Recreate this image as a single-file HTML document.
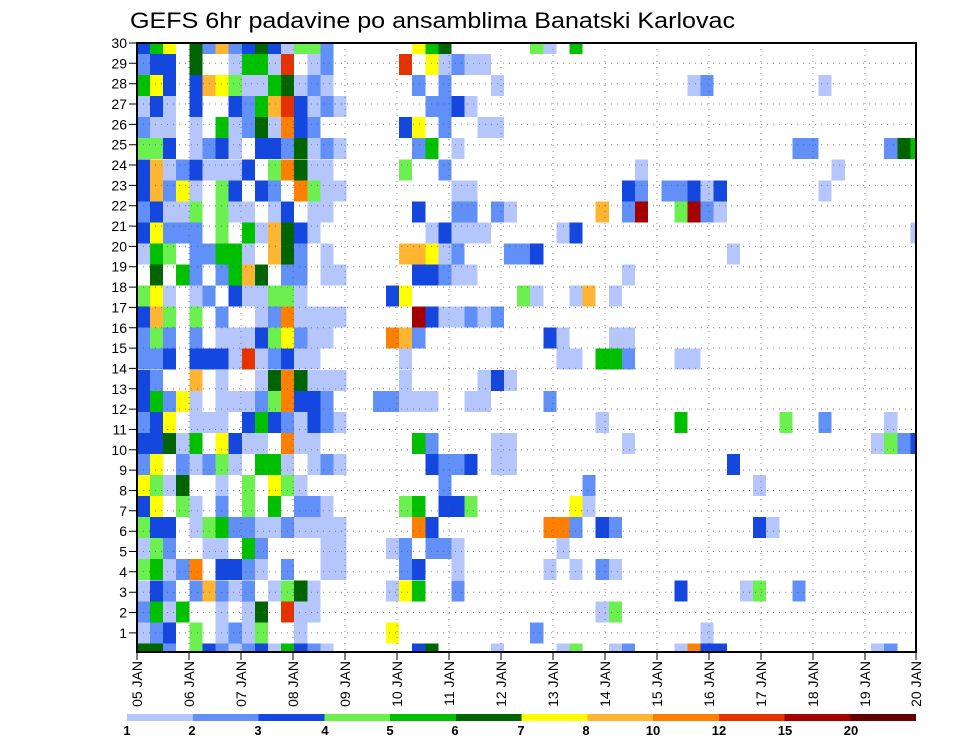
<!DOCTYPE html>
<html><head><meta charset="utf-8"><style>
html,body{margin:0;padding:0;background:#fff}
svg{display:block}
.a{fill:#b4c6fb}.b{fill:#6090f8}.c{fill:#1446e0}.d{fill:#6cf050}.e{fill:#00c000}.f{fill:#006400}
.g{fill:#ffff00}.h{fill:#ffb432}.i{fill:#ff8000}.j{fill:#e63200}.k{fill:#a50000}.l{fill:#640000}
text{font-family:"Liberation Sans",sans-serif;fill:#000}
</style></head><body>
<svg width="960" height="742" viewBox="0 0 960 742" xmlns="http://www.w3.org/2000/svg">
<defs><clipPath id="pc"><rect x="137" y="43" width="779" height="609"/></clipPath></defs>
<text x="130" y="28" font-size="22" textLength="605" lengthAdjust="spacingAndGlyphs">GEFS 6hr padavine po ansamblima Banatski Karlovac</text>
<g clip-path="url(#pc)"><g transform="translate(136.89,32.95) scale(13.11,21.05)" shape-rendering="crispEdges">
<g transform="translate(0,0)"><rect x="0" width="1" height="1" class="c"/><rect x="1" width="1" height="1" class="e"/><rect x="2" width="1" height="1" class="g"/><rect x="4" width="1" height="1" class="f"/><rect x="5" width="1" height="1" class="b"/><rect x="6" width="1" height="1" class="h"/><rect x="7" width="1" height="1" class="b"/><rect x="8" width="1" height="1" class="c"/><rect x="9" width="1" height="1" class="f"/><rect x="10" width="1" height="1" class="c"/><rect x="11" width="1" height="1" class="a"/><rect x="12" width="2" height="1" class="d"/><rect x="14" width="1" height="1" class="b"/><rect x="21" width="1" height="1" class="g"/><rect x="22" width="1" height="1" class="e"/><rect x="23" width="1" height="1" class="f"/><rect x="30" width="1" height="1" class="d"/><rect x="31" width="1" height="1" class="a"/><rect x="33" width="1" height="1" class="e"/></g>
<g transform="translate(0,1)"><rect x="0" width="1" height="1" class="b"/><rect x="1" width="2" height="1" class="c"/><rect x="4" width="1" height="1" class="f"/><rect x="7" width="1" height="1" class="a"/><rect x="8" width="2" height="1" class="e"/><rect x="10" width="1" height="1" class="a"/><rect x="11" width="1" height="1" class="j"/><rect x="13" width="1" height="1" class="a"/><rect x="14" width="1" height="1" class="b"/><rect x="20" width="1" height="1" class="j"/><rect x="22" width="1" height="1" class="g"/><rect x="23" width="1" height="1" class="a"/><rect x="24" width="1" height="1" class="b"/><rect x="25" width="2" height="1" class="a"/></g>
<g transform="translate(0,2)"><rect x="0" width="1" height="1" class="e"/><rect x="1" width="1" height="1" class="g"/><rect x="2" width="1" height="1" class="c"/><rect x="4" width="1" height="1" class="c"/><rect x="5" width="1" height="1" class="h"/><rect x="6" width="1" height="1" class="g"/><rect x="7" width="1" height="1" class="d"/><rect x="8" width="2" height="1" class="a"/><rect x="10" width="1" height="1" class="e"/><rect x="11" width="1" height="1" class="f"/><rect x="12" width="1" height="1" class="a"/><rect x="13" width="1" height="1" class="b"/><rect x="14" width="1" height="1" class="a"/><rect x="21" width="1" height="1" class="b"/><rect x="23" width="1" height="1" class="b"/><rect x="27" width="1" height="1" class="a"/><rect x="42" width="1" height="1" class="a"/><rect x="43" width="1" height="1" class="b"/><rect x="52" width="1" height="1" class="a"/></g>
<g transform="translate(0,3)"><rect x="0" width="1" height="1" class="a"/><rect x="1" width="1" height="1" class="c"/><rect x="2" width="1" height="1" class="a"/><rect x="4" width="1" height="1" class="c"/><rect x="7" width="1" height="1" class="c"/><rect x="8" width="1" height="1" class="b"/><rect x="9" width="1" height="1" class="e"/><rect x="10" width="1" height="1" class="h"/><rect x="11" width="1" height="1" class="j"/><rect x="12" width="1" height="1" class="c"/><rect x="13" width="1" height="1" class="a"/><rect x="14" width="1" height="1" class="b"/><rect x="15" width="1" height="1" class="a"/><rect x="22" width="2" height="1" class="b"/><rect x="24" width="1" height="1" class="c"/><rect x="25" width="1" height="1" class="a"/></g>
<g transform="translate(0,4)"><rect x="0" width="1" height="1" class="b"/><rect x="1" width="2" height="1" class="a"/><rect x="4" width="1" height="1" class="a"/><rect x="6" width="1" height="1" class="e"/><rect x="7" width="1" height="1" class="a"/><rect x="8" width="1" height="1" class="b"/><rect x="9" width="1" height="1" class="f"/><rect x="10" width="1" height="1" class="a"/><rect x="11" width="1" height="1" class="i"/><rect x="12" width="1" height="1" class="c"/><rect x="13" width="1" height="1" class="b"/><rect x="20" width="1" height="1" class="c"/><rect x="21" width="1" height="1" class="g"/><rect x="23" width="1" height="1" class="b"/><rect x="26" width="2" height="1" class="a"/></g>
<g transform="translate(0,5)"><rect x="0" width="2" height="1" class="d"/><rect x="2" width="1" height="1" class="c"/><rect x="4" width="1" height="1" class="a"/><rect x="5" width="1" height="1" class="b"/><rect x="6" width="1" height="1" class="c"/><rect x="7" width="1" height="1" class="a"/><rect x="9" width="2" height="1" class="c"/><rect x="11" width="1" height="1" class="b"/><rect x="12" width="1" height="1" class="f"/><rect x="13" width="1" height="1" class="a"/><rect x="14" width="1" height="1" class="b"/><rect x="15" width="1" height="1" class="a"/><rect x="21" width="1" height="1" class="b"/><rect x="22" width="1" height="1" class="e"/><rect x="24" width="1" height="1" class="a"/><rect x="50" width="2" height="1" class="b"/><rect x="57" width="1" height="1" class="b"/><rect x="58" width="1" height="1" class="f"/><rect x="59" width="1" height="1" class="e"/></g>
<g transform="translate(0,6)"><rect x="0" width="1" height="1" class="c"/><rect x="1" width="1" height="1" class="h"/><rect x="2" width="1" height="1" class="a"/><rect x="3" width="1" height="1" class="b"/><rect x="4" width="1" height="1" class="c"/><rect x="5" width="3" height="1" class="a"/><rect x="8" width="1" height="1" class="c"/><rect x="10" width="1" height="1" class="d"/><rect x="11" width="1" height="1" class="i"/><rect x="12" width="1" height="1" class="f"/><rect x="13" width="2" height="1" class="a"/><rect x="20" width="1" height="1" class="d"/><rect x="23" width="1" height="1" class="b"/><rect x="38" width="1" height="1" class="a"/><rect x="53" width="1" height="1" class="a"/></g>
<g transform="translate(0,7)"><rect x="0" width="1" height="1" class="c"/><rect x="1" width="1" height="1" class="h"/><rect x="2" width="1" height="1" class="b"/><rect x="3" width="1" height="1" class="g"/><rect x="4" width="1" height="1" class="a"/><rect x="6" width="1" height="1" class="d"/><rect x="7" width="1" height="1" class="c"/><rect x="9" width="1" height="1" class="c"/><rect x="10" width="1" height="1" class="b"/><rect x="12" width="1" height="1" class="i"/><rect x="13" width="1" height="1" class="d"/><rect x="14" width="2" height="1" class="a"/><rect x="24" width="2" height="1" class="a"/><rect x="37" width="1" height="1" class="c"/><rect x="38" width="1" height="1" class="b"/><rect x="40" width="2" height="1" class="b"/><rect x="42" width="1" height="1" class="c"/><rect x="43" width="1" height="1" class="a"/><rect x="44" width="1" height="1" class="c"/><rect x="52" width="1" height="1" class="a"/></g>
<g transform="translate(0,8)"><rect x="0" width="1" height="1" class="b"/><rect x="1" width="1" height="1" class="c"/><rect x="2" width="2" height="1" class="a"/><rect x="4" width="1" height="1" class="d"/><rect x="6" width="1" height="1" class="d"/><rect x="7" width="2" height="1" class="a"/><rect x="10" width="1" height="1" class="a"/><rect x="11" width="1" height="1" class="c"/><rect x="13" width="2" height="1" class="a"/><rect x="21" width="1" height="1" class="c"/><rect x="24" width="2" height="1" class="b"/><rect x="27" width="1" height="1" class="b"/><rect x="28" width="1" height="1" class="a"/><rect x="35" width="1" height="1" class="h"/><rect x="37" width="1" height="1" class="b"/><rect x="38" width="1" height="1" class="k"/><rect x="41" width="1" height="1" class="d"/><rect x="42" width="1" height="1" class="k"/><rect x="43" width="1" height="1" class="b"/><rect x="44" width="1" height="1" class="a"/></g>
<g transform="translate(0,9)"><rect x="0" width="1" height="1" class="c"/><rect x="1" width="1" height="1" class="g"/><rect x="2" width="3" height="1" class="b"/><rect x="6" width="1" height="1" class="d"/><rect x="8" width="1" height="1" class="e"/><rect x="9" width="1" height="1" class="a"/><rect x="10" width="1" height="1" class="h"/><rect x="11" width="1" height="1" class="f"/><rect x="12" width="1" height="1" class="c"/><rect x="13" width="1" height="1" class="a"/><rect x="22" width="1" height="1" class="a"/><rect x="23" width="1" height="1" class="c"/><rect x="24" width="3" height="1" class="a"/><rect x="32" width="1" height="1" class="a"/><rect x="33" width="1" height="1" class="c"/><rect x="59" width="1" height="1" class="a"/></g>
<g transform="translate(0,10)"><rect x="0" width="1" height="1" class="a"/><rect x="1" width="1" height="1" class="e"/><rect x="2" width="1" height="1" class="d"/><rect x="4" width="2" height="1" class="b"/><rect x="6" width="2" height="1" class="e"/><rect x="8" width="1" height="1" class="a"/><rect x="10" width="1" height="1" class="h"/><rect x="11" width="1" height="1" class="f"/><rect x="12" width="1" height="1" class="b"/><rect x="14" width="1" height="1" class="a"/><rect x="20" width="2" height="1" class="h"/><rect x="22" width="1" height="1" class="g"/><rect x="23" width="1" height="1" class="a"/><rect x="24" width="1" height="1" class="b"/><rect x="28" width="2" height="1" class="b"/><rect x="30" width="1" height="1" class="c"/><rect x="45" width="1" height="1" class="a"/></g>
<g transform="translate(0,11)"><rect x="1" width="1" height="1" class="f"/><rect x="3" width="1" height="1" class="e"/><rect x="4" width="1" height="1" class="b"/><rect x="6" width="1" height="1" class="b"/><rect x="7" width="1" height="1" class="e"/><rect x="8" width="1" height="1" class="h"/><rect x="9" width="1" height="1" class="f"/><rect x="11" width="2" height="1" class="b"/><rect x="14" width="2" height="1" class="a"/><rect x="21" width="2" height="1" class="c"/><rect x="23" width="1" height="1" class="b"/><rect x="24" width="2" height="1" class="a"/><rect x="37" width="1" height="1" class="a"/></g>
<g transform="translate(0,12)"><rect x="0" width="1" height="1" class="d"/><rect x="1" width="1" height="1" class="g"/><rect x="2" width="1" height="1" class="a"/><rect x="4" width="1" height="1" class="a"/><rect x="5" width="1" height="1" class="b"/><rect x="7" width="1" height="1" class="c"/><rect x="8" width="2" height="1" class="a"/><rect x="10" width="2" height="1" class="d"/><rect x="12" width="1" height="1" class="a"/><rect x="19" width="1" height="1" class="c"/><rect x="20" width="1" height="1" class="g"/><rect x="29" width="1" height="1" class="d"/><rect x="30" width="1" height="1" class="a"/><rect x="33" width="1" height="1" class="a"/><rect x="34" width="1" height="1" class="h"/><rect x="36" width="1" height="1" class="a"/></g>
<g transform="translate(0,13)"><rect x="0" width="1" height="1" class="c"/><rect x="1" width="1" height="1" class="h"/><rect x="2" width="1" height="1" class="d"/><rect x="4" width="1" height="1" class="d"/><rect x="6" width="1" height="1" class="b"/><rect x="9" width="1" height="1" class="a"/><rect x="10" width="1" height="1" class="b"/><rect x="11" width="1" height="1" class="i"/><rect x="12" width="4" height="1" class="a"/><rect x="21" width="1" height="1" class="k"/><rect x="22" width="1" height="1" class="c"/><rect x="23" width="2" height="1" class="a"/><rect x="25" width="1" height="1" class="b"/><rect x="26" width="1" height="1" class="a"/><rect x="27" width="1" height="1" class="b"/></g>
<g transform="translate(0,14)"><rect x="0" width="1" height="1" class="b"/><rect x="1" width="1" height="1" class="d"/><rect x="2" width="1" height="1" class="b"/><rect x="4" width="1" height="1" class="b"/><rect x="6" width="3" height="1" class="a"/><rect x="9" width="1" height="1" class="c"/><rect x="10" width="1" height="1" class="d"/><rect x="11" width="1" height="1" class="g"/><rect x="12" width="1" height="1" class="b"/><rect x="13" width="2" height="1" class="a"/><rect x="19" width="1" height="1" class="i"/><rect x="20" width="1" height="1" class="h"/><rect x="21" width="1" height="1" class="b"/><rect x="31" width="1" height="1" class="c"/><rect x="32" width="1" height="1" class="a"/><rect x="36" width="2" height="1" class="a"/></g>
<g transform="translate(0,15)"><rect x="0" width="2" height="1" class="b"/><rect x="2" width="1" height="1" class="c"/><rect x="4" width="3" height="1" class="c"/><rect x="7" width="1" height="1" class="a"/><rect x="8" width="1" height="1" class="j"/><rect x="9" width="1" height="1" class="a"/><rect x="10" width="1" height="1" class="b"/><rect x="11" width="1" height="1" class="c"/><rect x="12" width="2" height="1" class="a"/><rect x="20" width="1" height="1" class="a"/><rect x="32" width="2" height="1" class="a"/><rect x="35" width="2" height="1" class="e"/><rect x="37" width="1" height="1" class="b"/><rect x="41" width="2" height="1" class="a"/></g>
<g transform="translate(0,16)"><rect x="0" width="1" height="1" class="c"/><rect x="1" width="1" height="1" class="b"/><rect x="4" width="1" height="1" class="h"/><rect x="6" width="1" height="1" class="a"/><rect x="9" width="1" height="1" class="a"/><rect x="10" width="1" height="1" class="f"/><rect x="11" width="1" height="1" class="i"/><rect x="12" width="1" height="1" class="f"/><rect x="13" width="3" height="1" class="a"/><rect x="20" width="1" height="1" class="a"/><rect x="26" width="1" height="1" class="a"/><rect x="27" width="1" height="1" class="c"/><rect x="28" width="1" height="1" class="a"/></g>
<g transform="translate(0,17)"><rect x="0" width="1" height="1" class="c"/><rect x="1" width="1" height="1" class="e"/><rect x="2" width="1" height="1" class="b"/><rect x="3" width="1" height="1" class="g"/><rect x="4" width="1" height="1" class="a"/><rect x="6" width="3" height="1" class="a"/><rect x="9" width="1" height="1" class="b"/><rect x="10" width="1" height="1" class="d"/><rect x="11" width="1" height="1" class="i"/><rect x="12" width="2" height="1" class="c"/><rect x="14" width="1" height="1" class="b"/><rect x="18" width="2" height="1" class="b"/><rect x="20" width="3" height="1" class="a"/><rect x="25" width="2" height="1" class="a"/><rect x="31" width="1" height="1" class="b"/></g>
<g transform="translate(0,18)"><rect x="0" width="1" height="1" class="b"/><rect x="1" width="1" height="1" class="c"/><rect x="2" width="1" height="1" class="g"/><rect x="4" width="3" height="1" class="a"/><rect x="8" width="1" height="1" class="c"/><rect x="9" width="1" height="1" class="e"/><rect x="10" width="1" height="1" class="c"/><rect x="11" width="1" height="1" class="b"/><rect x="12" width="1" height="1" class="a"/><rect x="13" width="1" height="1" class="c"/><rect x="14" width="1" height="1" class="b"/><rect x="15" width="1" height="1" class="a"/><rect x="35" width="1" height="1" class="a"/><rect x="41" width="1" height="1" class="e"/><rect x="49" width="1" height="1" class="d"/><rect x="52" width="1" height="1" class="b"/><rect x="57" width="1" height="1" class="a"/></g>
<g transform="translate(0,19)"><rect x="0" width="2" height="1" class="c"/><rect x="2" width="1" height="1" class="f"/><rect x="3" width="1" height="1" class="a"/><rect x="4" width="1" height="1" class="e"/><rect x="6" width="1" height="1" class="g"/><rect x="7" width="1" height="1" class="c"/><rect x="8" width="2" height="1" class="a"/><rect x="11" width="1" height="1" class="i"/><rect x="12" width="2" height="1" class="a"/><rect x="21" width="1" height="1" class="e"/><rect x="22" width="1" height="1" class="b"/><rect x="27" width="2" height="1" class="a"/><rect x="37" width="1" height="1" class="a"/><rect x="56" width="1" height="1" class="a"/><rect x="57" width="1" height="1" class="d"/><rect x="58" width="1" height="1" class="b"/><rect x="59" width="1" height="1" class="c"/></g>
<g transform="translate(0,20)"><rect x="0" width="1" height="1" class="b"/><rect x="1" width="1" height="1" class="g"/><rect x="3" width="1" height="1" class="b"/><rect x="4" width="1" height="1" class="a"/><rect x="5" width="1" height="1" class="b"/><rect x="6" width="1" height="1" class="d"/><rect x="7" width="1" height="1" class="a"/><rect x="9" width="2" height="1" class="e"/><rect x="11" width="1" height="1" class="a"/><rect x="13" width="1" height="1" class="a"/><rect x="14" width="1" height="1" class="b"/><rect x="15" width="1" height="1" class="a"/><rect x="22" width="1" height="1" class="c"/><rect x="23" width="2" height="1" class="b"/><rect x="25" width="1" height="1" class="c"/><rect x="27" width="2" height="1" class="a"/><rect x="45" width="1" height="1" class="c"/></g>
<g transform="translate(0,21)"><rect x="0" width="1" height="1" class="g"/><rect x="1" width="1" height="1" class="d"/><rect x="2" width="1" height="1" class="a"/><rect x="3" width="1" height="1" class="f"/><rect x="6" width="1" height="1" class="a"/><rect x="8" width="1" height="1" class="d"/><rect x="10" width="1" height="1" class="g"/><rect x="11" width="1" height="1" class="d"/><rect x="12" width="1" height="1" class="a"/><rect x="23" width="1" height="1" class="b"/><rect x="34" width="1" height="1" class="b"/><rect x="47" width="1" height="1" class="a"/></g>
<g transform="translate(0,22)"><rect x="0" width="1" height="1" class="c"/><rect x="1" width="1" height="1" class="g"/><rect x="3" width="1" height="1" class="d"/><rect x="4" width="1" height="1" class="a"/><rect x="6" width="1" height="1" class="b"/><rect x="8" width="1" height="1" class="d"/><rect x="10" width="1" height="1" class="e"/><rect x="12" width="2" height="1" class="b"/><rect x="14" width="1" height="1" class="a"/><rect x="20" width="1" height="1" class="d"/><rect x="21" width="1" height="1" class="e"/><rect x="23" width="2" height="1" class="c"/><rect x="25" width="1" height="1" class="d"/><rect x="33" width="1" height="1" class="g"/><rect x="34" width="1" height="1" class="a"/></g>
<g transform="translate(0,23)"><rect x="0" width="1" height="1" class="d"/><rect x="1" width="2" height="1" class="c"/><rect x="4" width="1" height="1" class="a"/><rect x="5" width="1" height="1" class="d"/><rect x="6" width="1" height="1" class="e"/><rect x="7" width="2" height="1" class="b"/><rect x="9" width="2" height="1" class="a"/><rect x="11" width="1" height="1" class="b"/><rect x="12" width="4" height="1" class="a"/><rect x="21" width="1" height="1" class="i"/><rect x="22" width="1" height="1" class="c"/><rect x="31" width="2" height="1" class="i"/><rect x="33" width="1" height="1" class="b"/><rect x="35" width="1" height="1" class="c"/><rect x="36" width="1" height="1" class="b"/><rect x="47" width="1" height="1" class="c"/><rect x="48" width="1" height="1" class="a"/></g>
<g transform="translate(0,24)"><rect x="0" width="1" height="1" class="a"/><rect x="1" width="1" height="1" class="d"/><rect x="2" width="1" height="1" class="b"/><rect x="5" width="2" height="1" class="a"/><rect x="8" width="1" height="1" class="e"/><rect x="9" width="1" height="1" class="b"/><rect x="14" width="2" height="1" class="a"/><rect x="19" width="1" height="1" class="a"/><rect x="20" width="1" height="1" class="b"/><rect x="22" width="2" height="1" class="b"/><rect x="24" width="1" height="1" class="a"/><rect x="32" width="1" height="1" class="a"/></g>
<g transform="translate(0,25)"><rect x="0" width="1" height="1" class="d"/><rect x="1" width="1" height="1" class="e"/><rect x="2" width="1" height="1" class="a"/><rect x="3" width="1" height="1" class="b"/><rect x="4" width="1" height="1" class="i"/><rect x="6" width="2" height="1" class="c"/><rect x="8" width="1" height="1" class="b"/><rect x="9" width="1" height="1" class="a"/><rect x="11" width="1" height="1" class="b"/><rect x="14" width="2" height="1" class="a"/><rect x="20" width="1" height="1" class="b"/><rect x="21" width="1" height="1" class="c"/><rect x="24" width="1" height="1" class="a"/><rect x="31" width="1" height="1" class="a"/><rect x="33" width="1" height="1" class="a"/><rect x="35" width="1" height="1" class="b"/><rect x="36" width="1" height="1" class="a"/></g>
<g transform="translate(0,26)"><rect x="0" width="1" height="1" class="a"/><rect x="1" width="1" height="1" class="c"/><rect x="2" width="1" height="1" class="b"/><rect x="4" width="1" height="1" class="b"/><rect x="5" width="1" height="1" class="h"/><rect x="6" width="1" height="1" class="b"/><rect x="7" width="1" height="1" class="a"/><rect x="8" width="1" height="1" class="b"/><rect x="10" width="1" height="1" class="a"/><rect x="11" width="1" height="1" class="d"/><rect x="12" width="1" height="1" class="f"/><rect x="13" width="1" height="1" class="a"/><rect x="19" width="1" height="1" class="a"/><rect x="20" width="1" height="1" class="g"/><rect x="21" width="1" height="1" class="e"/><rect x="24" width="1" height="1" class="b"/><rect x="41" width="1" height="1" class="c"/><rect x="46" width="1" height="1" class="a"/><rect x="47" width="1" height="1" class="d"/><rect x="50" width="1" height="1" class="b"/></g>
<g transform="translate(0,27)"><rect x="0" width="1" height="1" class="b"/><rect x="1" width="1" height="1" class="e"/><rect x="2" width="1" height="1" class="a"/><rect x="3" width="1" height="1" class="e"/><rect x="6" width="1" height="1" class="a"/><rect x="8" width="1" height="1" class="a"/><rect x="9" width="1" height="1" class="f"/><rect x="11" width="1" height="1" class="j"/><rect x="12" width="2" height="1" class="a"/><rect x="35" width="1" height="1" class="a"/><rect x="36" width="1" height="1" class="d"/></g>
<g transform="translate(0,28)"><rect x="0" width="1" height="1" class="a"/><rect x="1" width="1" height="1" class="b"/><rect x="2" width="1" height="1" class="c"/><rect x="4" width="1" height="1" class="d"/><rect x="6" width="1" height="1" class="a"/><rect x="7" width="1" height="1" class="b"/><rect x="8" width="1" height="1" class="a"/><rect x="9" width="1" height="1" class="d"/><rect x="12" width="1" height="1" class="a"/><rect x="19" width="1" height="1" class="g"/><rect x="30" width="1" height="1" class="b"/><rect x="43" width="1" height="1" class="a"/></g>
<g transform="translate(0,29)"><rect x="0" width="2" height="1" class="f"/><rect x="2" width="1" height="1" class="b"/><rect x="4" width="1" height="1" class="d"/><rect x="5" width="1" height="1" class="c"/><rect x="6" width="1" height="1" class="b"/><rect x="7" width="1" height="1" class="a"/><rect x="8" width="1" height="1" class="b"/><rect x="9" width="1" height="1" class="c"/><rect x="10" width="1" height="1" class="a"/><rect x="11" width="1" height="1" class="e"/><rect x="12" width="1" height="1" class="c"/><rect x="13" width="1" height="1" class="b"/><rect x="14" width="1" height="1" class="a"/><rect x="21" width="1" height="1" class="c"/><rect x="22" width="1" height="1" class="f"/><rect x="27" width="1" height="1" class="a"/><rect x="32" width="1" height="1" class="a"/><rect x="33" width="1" height="1" class="d"/><rect x="36" width="1" height="1" class="a"/><rect x="37" width="1" height="1" class="b"/><rect x="41" width="1" height="1" class="a"/><rect x="42" width="1" height="1" class="i"/><rect x="43" width="2" height="1" class="c"/><rect x="56" width="1" height="1" class="a"/><rect x="57" width="1" height="1" class="b"/></g>
</g></g>
<g stroke="#555" stroke-width="1" stroke-dasharray="1 5" opacity="0.7">
<path d="M137 63.3H916M137 83.7H916M137 104H916M137 124.4H916M137 144.7H916M137 165H916M137 185.4H916M137 205.7H916M137 226.1H916M137 246.4H916M137 266.7H916M137 287.1H916M137 307.4H916M137 327.8H916M137 348.1H916M137 368.4H916M137 388.8H916M137 409.1H916M137 429.5H916M137 449.8H916M137 470.1H916M137 490.5H916M137 510.8H916M137 531.2H916M137 551.5H916M137 571.8H916M137 592.2H916M137 612.5H916M137 632.9H916"/>
<path d="M189 43V652M241 43V652M293 43V652M345 43V652M397 43V652M449 43V652M501 43V652M553 43V652M605 43V652M657 43V652M709 43V652M761 43V652M813 43V652M865 43V652"/>
</g>
<rect x="137" y="43" width="779" height="609" fill="none" stroke="#000" stroke-width="2"/>
<g stroke="#000" stroke-width="1">
<path d="M129 43H137M129 63.3H137M129 83.7H137M129 104H137M129 124.4H137M129 144.7H137M129 165H137M129 185.4H137M129 205.7H137M129 226.1H137M129 246.4H137M129 266.7H137M129 287.1H137M129 307.4H137M129 327.8H137M129 348.1H137M129 368.4H137M129 388.8H137M129 409.1H137M129 429.5H137M129 449.8H137M129 470.1H137M129 490.5H137M129 510.8H137M129 531.2H137M129 551.5H137M129 571.8H137M129 592.2H137M129 612.5H137M129 632.9H137"/>
<path d="M137 652V660M189 652V660M241 652V660M293 652V660M345 652V660M397 652V660M449 652V660M501 652V660M553 652V660M605 652V660M657 652V660M709 652V660M761 652V660M813 652V660M865 652V660M916 652V660"/>
</g>
<g font-size="14" text-anchor="end">
<text x="127" y="48">30</text><text x="127" y="68.3">29</text><text x="127" y="88.7">28</text><text x="127" y="109">27</text><text x="127" y="129.4">26</text><text x="127" y="149.7">25</text><text x="127" y="170">24</text><text x="127" y="190.4">23</text><text x="127" y="210.7">22</text><text x="127" y="231.1">21</text><text x="127" y="251.4">20</text><text x="127" y="271.7">19</text><text x="127" y="292.1">18</text><text x="127" y="312.4">17</text><text x="127" y="332.8">16</text><text x="127" y="353.1">15</text><text x="127" y="373.4">14</text><text x="127" y="393.8">13</text><text x="127" y="414.1">12</text><text x="127" y="434.5">11</text><text x="127" y="454.8">10</text><text x="127" y="475.1">9</text><text x="127" y="495.5">8</text><text x="127" y="515.8">7</text><text x="127" y="536.2">6</text><text x="127" y="556.5">5</text><text x="127" y="576.8">4</text><text x="127" y="597.2">3</text><text x="127" y="617.5">2</text><text x="127" y="637.9">1</text>
</g>
<g font-size="14" text-anchor="end">
<text transform="translate(142,661) rotate(-90)">05 JAN</text><text transform="translate(194,661) rotate(-90)">06 JAN</text><text transform="translate(246,661) rotate(-90)">07 JAN</text><text transform="translate(298,661) rotate(-90)">08 JAN</text><text transform="translate(350,661) rotate(-90)">09 JAN</text><text transform="translate(402,661) rotate(-90)">10 JAN</text><text transform="translate(454,661) rotate(-90)">11 JAN</text><text transform="translate(506,661) rotate(-90)">12 JAN</text><text transform="translate(558,661) rotate(-90)">13 JAN</text><text transform="translate(610,661) rotate(-90)">14 JAN</text><text transform="translate(662,661) rotate(-90)">15 JAN</text><text transform="translate(714,661) rotate(-90)">16 JAN</text><text transform="translate(766,661) rotate(-90)">17 JAN</text><text transform="translate(818,661) rotate(-90)">18 JAN</text><text transform="translate(870,661) rotate(-90)">19 JAN</text><text transform="translate(921,661) rotate(-90)">20 JAN</text>
</g>
<g shape-rendering="crispEdges">
<rect x="127" y="714" width="66" height="7" class="a"/><rect x="192.75" y="714" width="66" height="7" class="b"/><rect x="258.5" y="714" width="66" height="7" class="c"/><rect x="324.25" y="714" width="66" height="7" class="d"/><rect x="390" y="714" width="66" height="7" class="e"/><rect x="455.75" y="714" width="66" height="7" class="f"/><rect x="521.5" y="714" width="66" height="7" class="g"/><rect x="587.25" y="714" width="66" height="7" class="h"/><rect x="653" y="714" width="66" height="7" class="i"/><rect x="718.75" y="714" width="66" height="7" class="j"/><rect x="784.5" y="714" width="66" height="7" class="k"/><rect x="850.25" y="714" width="65.75" height="7" class="l"/>
</g>
<g font-size="13" font-weight="bold" text-anchor="middle">
<text x="127" y="735">1</text><text x="192" y="735">2</text><text x="258" y="735">3</text><text x="325" y="735">4</text><text x="390" y="735">5</text><text x="455" y="735">6</text><text x="521" y="735">7</text><text x="586" y="735">8</text><text x="653" y="735">10</text><text x="719" y="735">12</text><text x="785" y="735">15</text><text x="851" y="735">20</text>
</g>
</svg>
</body></html>
